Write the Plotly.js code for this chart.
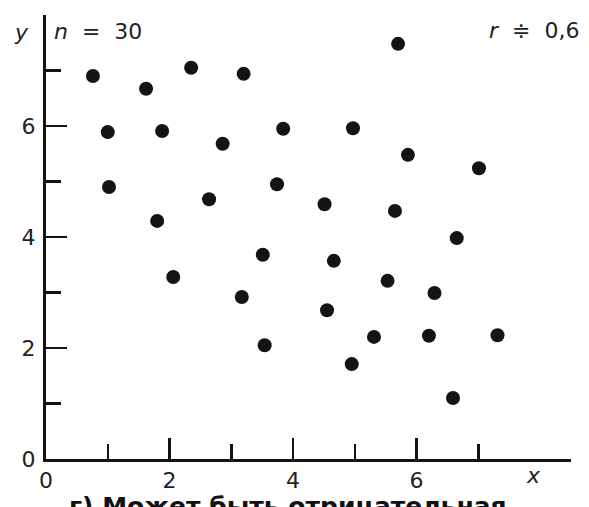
<!DOCTYPE html>
<html>
<head>
<meta charset="utf-8">
<script src="https://cdn.plot.ly/plotly-3.0.1.min.js"></script>
<style>
html,body{margin:0;padding:0;background:#fff;}
#chart{width:589px;height:507px;}
</style>
</head>
<body>
<div id="chart"></div>
<script>
// Values
var xValues = [0.76, 1.62, 2.35, 3.20, 1.00, 1.88, 2.86, 3.84, 1.02, 2.64, 3.74, 1.80, 3.51,
               5.70, 4.97, 5.86, 7.01, 4.51, 5.65, 6.65, 2.06, 3.17, 3.54, 4.66, 5.53, 6.29,
               4.55, 5.31, 6.20, 7.31, 4.95, 6.59];
var yValues = [6.90, 6.67, 7.05, 6.94, 5.89, 5.91, 5.68, 5.95, 4.90, 4.68, 4.95, 4.29, 3.68,
               7.48, 5.96, 5.48, 5.24, 4.59, 4.47, 3.98, 3.28, 2.92, 2.05, 3.57, 3.21, 2.99,
               2.68, 2.20, 2.22, 2.23, 1.71, 1.10];
var majorTicks = [0, 2, 4, 6];
var majorTickLabels = ['0', '2', '4', '6'];
var minorTicks = [1, 3, 5, 7];
var nLabel = '<i>n</i>&nbsp; = &nbsp;30';
var rLabel = '<i>r</i>&nbsp; \u2251 &nbsp;0,6';
var captionText = 'г) Может быть отрицательная';

var ink = '#141414';
var fam = 'DejaVu Sans, Liberation Sans, Arial, sans-serif';
var axisCommon = {
  showgrid: false, zeroline: false, showline: true, linecolor: ink, linewidth: 3,
  ticks: 'inside', tickmode: 'array', tickvals: majorTicks, ticktext: majorTickLabels,
  ticklen: 21, tickwidth: 2.5, tickcolor: ink,
  tickfont: {family: fam, size: 22, color: '#222'},
  minor: {tickmode: 'array', tickvals: minorTicks, ticks: 'inside', ticklen: 15, tickwidth: 2.5, tickcolor: ink, showgrid: false},
  fixedrange: true
};

var trace = {
  type: 'scatter', mode: 'markers', x: xValues, y: yValues,
  marker: {size: 14, color: ink, line: {width: 0}},
  hoverinfo: 'skip', cliponaxis: false
};

var layout = {
  width: 589, height: 507,
  margin: {l: 46, r: 18, t: 15, b: 48},
  paper_bgcolor: '#fff', plot_bgcolor: '#fff',
  showlegend: false,
  xaxis: Object.assign({}, axisCommon, {range: [0, 8.5], ticklabelstandoff: 0}),
  yaxis: Object.assign({}, axisCommon, {range: [0, 8], ticklabelstandoff: 3}),
  font: {family: fam, color: '#222'},
  annotations: [
    {xref: 'paper', yref: 'paper', x: -0.046, y: 0.960, text: '<i>y</i>', showarrow: false,
     xanchor: 'center', yanchor: 'middle', font: {size: 22, color: '#222'}},
    {xref: 'paper', yref: 'paper', x: 0.012, y: 0.962, text: nLabel, showarrow: false,
     xanchor: 'left', yanchor: 'middle', font: {size: 22, color: '#222'}},
    {xref: 'paper', yref: 'paper', x: 1.019, y: 0.966, text: rLabel, showarrow: false,
     xanchor: 'right', yanchor: 'middle', font: {size: 22, color: '#222'}},
    {xref: 'paper', yref: 'paper', x: 0.928, y: -0.038, text: '<i>x</i>', showarrow: false,
     xanchor: 'center', yanchor: 'middle', font: {size: 22, color: '#222'}},
    {xref: 'paper', yref: 'paper', x: 0.040, y: -0.107, text: '<b>' + captionText + '</b>', showarrow: false,
     xanchor: 'left', yanchor: 'middle', font: {family: fam, size: 25, color: '#111'}}
  ]
};

Plotly.newPlot('chart', [trace], layout, {displayModeBar: false, staticPlot: true});
</script>
</body>
</html>
